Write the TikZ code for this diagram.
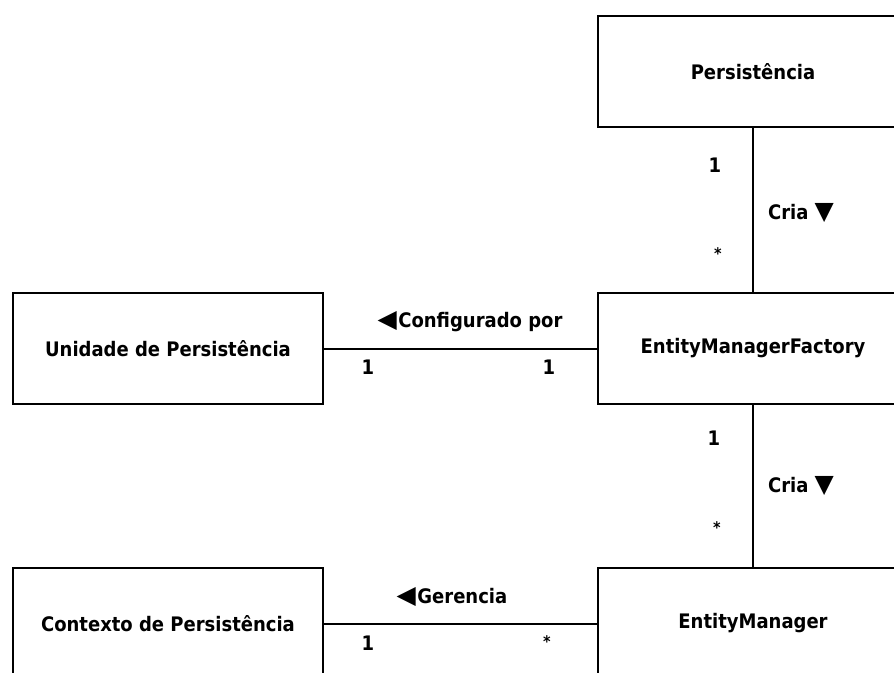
\documentclass[tikz,border=0pt]{standalone}
\usepackage{fontspec}
\setmainfont{DejaVu Sans Condensed}
\newfontfamily\symfont[Scale=1.25]{DejaVu Sans}
\newcommand{\tridown}{{\symfont ▼}}
\newcommand{\trileft}{{\symfont ◀}\kern1.5pt}
\begin{document}
\begin{tikzpicture}[x=1pt,y=-1pt,
  every node/.style={font=\fontsize{20}{23}\selectfont\bfseries},
  cls/.style={draw, line width=2pt, minimum width=310pt, minimum height=111pt,
              inner sep=0pt, anchor=north west},
  lbl/.style={anchor=base, inner sep=0pt},
  star/.style={lbl, font=\fontsize{16}{18}\selectfont\bfseries},
  assoc/.style={line width=2pt}]
  \useasboundingbox (0,0) rectangle (894,672);
  \clip (0,0) rectangle (894,672);

  % classes
  \node[cls] (pers) at (597,15)  {Persistência};
  \node[cls] (unid) at (12,292)  {Unidade de Persistência};
  \node[cls] (emf)  at (597,292) {EntityManagerFactory};
  \node[cls] (ctx)  at (12,567)  {Contexto de Persistência};
  \node[cls] (em)   at (597,567) {EntityManager};

  % associations
  \draw[assoc] (pers.south) -- (emf.north);
  \draw[assoc] (unid.east) -- (emf.west);
  \draw[assoc] (emf.south) -- (em.north);
  \draw[assoc] (ctx.east) -- (em.west);

  % Persistencia -- EntityManagerFactory
  \node[lbl]  (m1a) at (715,172) {1};
  \node[star] (m1b) at (718,259) {*};
  \node[lbl]  (r1)  at (801,219) {Cria \tridown};

  % Unidade -- EntityManagerFactory
  \node[lbl] (r2)  at (470,327) {\trileft Configurado por};
  \node[lbl] (m2a) at (368,374) {1};
  \node[lbl] (m2b) at (549,374) {1};

  % EntityManagerFactory -- EntityManager
  \node[lbl]  (m3a) at (714,445) {1};
  \node[star] (m3b) at (717,533) {*};
  \node[lbl]  (r3)  at (801,492) {Cria \tridown};

  % Contexto -- EntityManager
  \node[lbl]  (r4)  at (452,603) {\trileft Gerencia};
  \node[lbl]  (m4a) at (368,650) {1};
  \node[star] (m4b) at (547,647) {*};
\end{tikzpicture}
\end{document}
